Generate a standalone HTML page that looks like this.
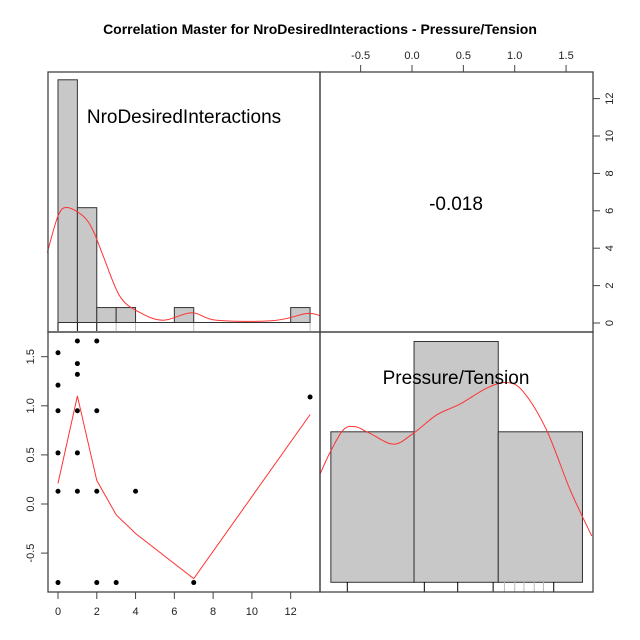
<!DOCTYPE html>
<html><head><meta charset="utf-8"><style>
body{margin:0;background:#fff;}
svg{display:block;font-family:"Liberation Sans",Arial,sans-serif;}
</style></head><body>
<svg id="c" width="640" height="640" xmlns="http://www.w3.org/2000/svg">
<rect width="640" height="640" fill="#fff"/>
<text x="320" y="34" text-anchor="middle" font-weight="bold" font-size="14">Correlation Master for NroDesiredInteractions - Pressure/Tension</text>
<g id="g"></g>
</svg>
<script>
// Data
const xVals = [0,1,2,1,1,0,0,1,2,0,1,0,1,2,4,0,2,3,7,13];
const yVals = [1.54,1.66,1.66,1.43,1.32,1.21,0.95,0.95,0.95,0.52,0.52,0.13,0.13,0.13,0.13,-0.80,-0.80,-0.80,-0.80,1.09];
const loessX = [0,1,2,3,4,7,13];
const loessY = [0.21,1.10,0.24,-0.11,-0.30,-0.76,0.91];
const hist1Breaks = [0,1,2,3,4,5,6,7,8,9,10,11,12,13];
const hist1Heights = [13,6.15,0.8,0.8,0,0,0.8,0,0,0,0,0,0.8];
const dens1X = [-0.55,0,0.45,1.3,1.82,2.34,3.2,4.23,5.43,6.9,8.18,11.1,12.83,13.5];
const dens1Y = [3.75,5.7,6.16,5.7,4.9,3.54,1.39,0.53,0.12,0.52,0.12,0.1,0.48,0.37];
const rug1 = [0,1,2,3,4,7,13];
const hist2Breaks = [-0.79,0.02,0.84,1.66];
const hist2Counts = [5,8,5];
const dens2X = [-0.9,-0.8,-0.67,-0.555,-0.41,-0.18,0.013,0.24,0.467,0.727,0.922,1.084,1.31,1.54,1.75];
const dens2Y = [3.56,4.3,5.06,5.17,4.95,4.59,4.95,5.56,5.92,6.45,6.64,6.33,5.06,3.07,1.54];
const rug2 = [-0.63,0.12,0.445,0.79,0.9,1.0,1.09,1.19,1.28,1.38];
const xTicks = [0,2,4,6,8,10,12];
const yTicks = [-0.5,0.0,0.5,1.0,1.5];
const topTicks = [-0.5,0.0,0.5,1.0,1.5];
const rightTicks = [0,2,4,6,8,10,12];
const corrText = "-0.018";

const NS="http://www.w3.org/2000/svg";
const g=document.getElementById('g');
function mk(tag,attrs,parent){const e=document.createElementNS(NS,tag);for(const k in attrs)e.setAttribute(k,attrs[k]);(parent||g).appendChild(e);return e;}
function smooth(pts){let d='M'+pts[0][0]+','+pts[0][1];
 for(let i=0;i<pts.length-1;i++){const p0=pts[Math.max(0,i-1)],p1=pts[i],p2=pts[i+1],p3=pts[Math.min(pts.length-1,i+2)];
  const c1=[p1[0]+(p2[0]-p0[0])/6,p1[1]+(p2[1]-p0[1])/6],c2=[p2[0]-(p3[0]-p1[0])/6,p2[1]-(p3[1]-p1[1])/6];
  d+=` C${c1[0]},${c1[1]} ${c2[0]},${c2[1]} ${p2[0]},${p2[1]}`;}
 return d;}
const sx=v=>58+v*19.39;
const sy2=v=>504-v*98.2;
const sh1=v=>322.5-v*18.67;
const sx2=v=>412+v*102.7;
const sh2=v=>582.3-v*30.1;

for(let i=0;i<hist1Heights.length;i++){
  if(hist1Heights[i]<=0)continue;
  const r=mk('rect',{x:sx(hist1Breaks[i]),y:sh1(hist1Heights[i]),width:sx(hist1Breaks[i+1])-sx(hist1Breaks[i]),height:sh1(0)-sh1(hist1Heights[i]),fill:'#c8c8c8',stroke:'#333','stroke-width':1});
  
  
}
let l=mk('line',{x1:sx(0),x2:sx(13),y1:sh1(0),y2:sh1(0),stroke:'#333'});

rug1.forEach((v,i)=>{const t=mk('line',{x1:sx(v),x2:sx(v),y1:323,y2:331,stroke:i<3?'#000':'#bbb'});});
let p=mk('path',{d:smooth(dens1X.map((v,i)=>[sx(v),sh1(dens1Y[i])])),fill:'none',stroke:'#f33','stroke-width':1});


for(let i=0;i<hist2Counts.length;i++){
  const r=mk('rect',{x:sx2(hist2Breaks[i]),y:sh2(hist2Counts[i]),width:sx2(hist2Breaks[i+1])-sx2(hist2Breaks[i]),height:sh2(0)-sh2(hist2Counts[i]),fill:'#c8c8c8',stroke:'#333','stroke-width':1});
  
  
}
rug2.forEach((v,i)=>{const t=mk('line',{x1:sx2(v),x2:sx2(v),y1:582,y2:592,stroke:(i<4||i==9)?'#000':'#bbb'});});
p=mk('path',{d:smooth(dens2X.map((v,i)=>[sx2(v),sh2(dens2Y[i])])),fill:'none',stroke:'#f33','stroke-width':1});


xVals.forEach((v,i)=>{const c=mk('circle',{cx:sx(v),cy:sy2(yVals[i]),r:2.5,fill:'#000'});});
p=mk('polyline',{points:loessX.map((v,i)=>sx(v)+','+sy2(loessY[i])).join(' '),fill:'none',stroke:'#f33','stroke-width':1});


const frames=[[48,72,272,260,'panel-top-left'],[320,72,273,260,'panel-top-right'],[48,332,272,260,'panel-bottom-left'],[320,332,273,260,'panel-bottom-right']];
frames.forEach(f=>{const r=mk('rect',{x:f[0],y:f[1],width:f[2],height:f[3],fill:'none',stroke:'#444','stroke-width':1.3});});
let t=mk('text',{x:184,y:123,'text-anchor':'middle','font-size':19});t.textContent='NroDesiredInteractions';
t=mk('text',{x:456,y:384,'text-anchor':'middle','font-size':19});t.textContent='Pressure/Tension';
t=mk('text',{x:456,y:210,'text-anchor':'middle','font-size':19});t.textContent=corrText;

xTicks.forEach(v=>{let a=mk('line',{x1:sx(v),x2:sx(v),y1:592,y2:599,stroke:'#444'});
 let b=mk('text',{x:sx(v),y:615,'text-anchor':'middle','font-size':11,fill:'#222'});b.textContent=v;});
yTicks.forEach(v=>{let a=mk('line',{x1:41,x2:48,y1:sy2(v),y2:sy2(v),stroke:'#444'});
 let b=mk('text',{x:0,y:0,'text-anchor':'middle','font-size':11,fill:'#222',transform:`translate(34,${sy2(v)}) rotate(-90)`});b.textContent=v.toFixed(1);});
topTicks.forEach(v=>{let a=mk('line',{x1:sx2(v),x2:sx2(v),y1:65,y2:72,stroke:'#444'});
 let b=mk('text',{x:sx2(v),y:59,'text-anchor':'middle','font-size':11,fill:'#222'});b.textContent=v.toFixed(1);});
rightTicks.forEach(v=>{const y=323-v*18.7;let a=mk('line',{x1:593,x2:600,y1:y,y2:y,stroke:'#444'});
 let b=mk('text',{x:0,y:0,'text-anchor':'middle','font-size':11,fill:'#222',transform:`translate(613,${y}) rotate(-90)`});b.textContent=v;});
</script>
</body></html>
